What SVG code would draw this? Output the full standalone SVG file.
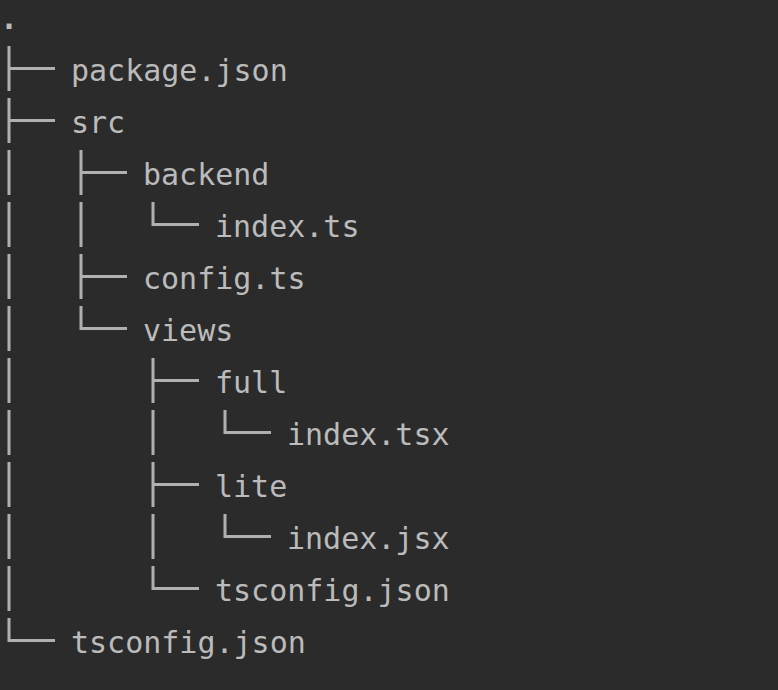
<svg xmlns="http://www.w3.org/2000/svg" width="778" height="690" viewBox="0 0 778 690">
<style>
.t{font-family:"DejaVu Sans Mono","Liberation Mono",monospace;font-size:30px;fill:#bbbbbb}
.c{fill:none;stroke:#b0b0b0;stroke-width:3;stroke-linecap:butt;stroke-linejoin:miter}
</style>
<rect width="778" height="690" fill="#2b2b2b"/>
<g id="connectors">
<path class="c" d="M9 46V91M9 68.5H55"/>
<path class="c" d="M9 98V143M9 120.5H55"/>
<path class="c" d="M9 150V195"/>
<path class="c" d="M81 150V195M81 172.5H127"/>
<path class="c" d="M9 202V247"/>
<path class="c" d="M81 202V247"/>
<path class="c" d="M153 202V224.5H199"/>
<path class="c" d="M9 254V299"/>
<path class="c" d="M81 254V299M81 276.5H127"/>
<path class="c" d="M9 306V351"/>
<path class="c" d="M81 306V328.5H127"/>
<path class="c" d="M9 358V403"/>
<path class="c" d="M153 358V403M153 380.5H199"/>
<path class="c" d="M9 410V455"/>
<path class="c" d="M153 410V455"/>
<path class="c" d="M225 410V432.5H271"/>
<path class="c" d="M9 462V507"/>
<path class="c" d="M153 462V507M153 484.5H199"/>
<path class="c" d="M9 514V559"/>
<path class="c" d="M153 514V559"/>
<path class="c" d="M225 514V536.5H271"/>
<path class="c" d="M9 566V611"/>
<path class="c" d="M153 566V588.5H199"/>
<path class="c" d="M9 618V640.5H55"/>
</g>
<g id="root"><text class="t" x="9" y="29" text-anchor="middle" font-weight="bold">.</text></g>
<g id="package-json"><text class="t" x="71" y="81">package.json</text></g>
<g id="src"><text class="t" x="71" y="133">src</text></g>
<g id="backend"><text class="t" x="143" y="185">backend</text></g>
<g id="backend-index-ts"><text class="t" x="215" y="237">index.ts</text></g>
<g id="config-ts"><text class="t" x="143" y="289">config.ts</text></g>
<g id="views"><text class="t" x="143" y="341">views</text></g>
<g id="full"><text class="t" x="215" y="393">full</text></g>
<g id="full-index-tsx"><text class="t" x="287" y="445">index.tsx</text></g>
<g id="lite"><text class="t" x="215" y="497">lite</text></g>
<g id="lite-index-jsx"><text class="t" x="287" y="549">index.jsx</text></g>
<g id="views-tsconfig-json"><text class="t" x="215" y="601">tsconfig.json</text></g>
<g id="tsconfig-json"><text class="t" x="71" y="653">tsconfig.json</text></g>
</svg>
